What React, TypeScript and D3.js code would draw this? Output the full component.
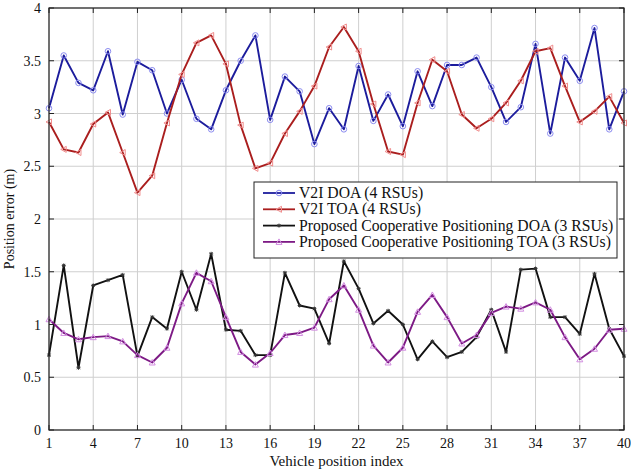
import React from "react";
import * as d3 from "d3";

const indices = d3.range(1, 41);
const xTicks = [1, 4, 7, 10, 13, 16, 19, 22, 25, 28, 31, 34, 37, 40];
const yTicks = [0, 0.5, 1, 1.5, 2, 2.5, 3, 3.5, 4];

const v2iDOA = [3.05, 3.55, 3.29, 3.22, 3.59, 2.99, 3.49, 3.41, 3.0, 3.32, 2.95, 2.85, 3.22, 3.5, 3.74, 2.94, 3.35, 3.21, 2.71, 3.05, 2.85, 3.45, 2.93, 3.18, 2.88, 3.4, 3.07, 3.46, 3.46, 3.53, 3.25, 2.92, 3.06, 3.66, 2.81, 3.53, 3.31, 3.81, 2.85, 3.21];
const v2iTOA = [2.92, 2.66, 2.63, 2.9, 3.01, 2.63, 2.25, 2.41, 2.91, 3.37, 3.67, 3.74, 3.47, 2.89, 2.48, 2.53, 2.81, 3.02, 3.26, 3.63, 3.82, 3.59, 3.09, 2.64, 2.61, 3.1, 3.51, 3.4, 2.99, 2.86, 2.95, 3.1, 3.31, 3.59, 3.62, 3.26, 2.92, 3.02, 3.16, 2.91];
const coopDOA = [0.71, 1.56, 0.59, 1.37, 1.42, 1.47, 0.7, 1.07, 0.96, 1.5, 1.14, 1.67, 0.95, 0.94, 0.71, 0.71, 1.49, 1.18, 1.15, 0.82, 1.6, 1.34, 1.01, 1.13, 1.0, 0.67, 0.84, 0.69, 0.74, 0.88, 1.14, 0.74, 1.52, 1.53, 1.07, 1.07, 0.91, 1.48, 0.96, 0.7];
const coopTOA = [1.05, 0.92, 0.86, 0.88, 0.89, 0.84, 0.71, 0.64, 0.78, 1.2, 1.49, 1.41, 1.07, 0.74, 0.62, 0.73, 0.9, 0.92, 0.97, 1.24, 1.37, 1.14, 0.8, 0.64, 0.78, 1.12, 1.28, 1.07, 0.82, 0.9, 1.11, 1.17, 1.15, 1.21, 1.14, 0.88, 0.67, 0.77, 0.95, 0.96];

const seriesNames = [
  "V2I DOA (4 RSUs)",
  "V2I TOA (4 RSUs)",
  "Proposed Cooperative Positioning DOA (3 RSUs)",
  "Proposed Cooperative Positioning TOA (3 RSUs)",
];

const series = [
  { name: seriesNames[0], values: v2iDOA, color: "#1c1c9c", mcolor: "#8c8cf0", marker: "circle" },
  { name: seriesNames[1], values: v2iTOA, color: "#aa1e1e", mcolor: "#f08c8c", marker: "triLeft" },
  { name: seriesNames[2], values: coopDOA, color: "#111111", mcolor: "#333333", marker: "star" },
  { name: seriesNames[3], values: coopTOA, color: "#7d1a85", mcolor: "#d28ce0", marker: "triUp" },
];

const W = 631, H = 475;
const M = { left: 49, right: 7, top: 8, bottom: 45 };
const FONT = "'Liberation Serif', 'DejaVu Serif', serif";

function Marker({ type, x, y, color }: { type: string; x: number; y: number; color: string }) {
  if (type === "circle") return <circle cx={x} cy={y} r={2.8} fill="none" stroke={color} strokeWidth={1} />;
  if (type === "triLeft") {
    const p = `${x - 3},${y} ${x + 2.5},${y - 3} ${x + 2.5},${y + 3}`;
    return <polygon points={p} fill="none" stroke={color} strokeWidth={1} />;
  }
  if (type === "triUp") {
    const p = `${x},${y - 3} ${x - 3},${y + 2.5} ${x + 3},${y + 2.5}`;
    return <polygon points={p} fill="none" stroke={color} strokeWidth={1} />;
  }
  return (
    <g stroke={color} strokeWidth={1}>
      <line x1={x - 2} x2={x + 2} y1={y} y2={y} />
      <line x1={x} x2={x} y1={y - 2} y2={y + 2} />
      <line x1={x - 1.5} x2={x + 1.5} y1={y - 1.5} y2={y + 1.5} />
      <line x1={x - 1.5} x2={x + 1.5} y1={y + 1.5} y2={y - 1.5} />
    </g>
  );
}

export default function App() {
  const x = d3.scaleLinear().domain([1, 40]).range([M.left, W - M.right]);
  const y = d3.scaleLinear().domain([0, 4]).range([H - M.bottom, M.top]);
  const line = d3.line<number>().x((_, i) => x(indices[i])).y((d) => y(d));
  const legX = 254, legY = 182, legW = 363, legH = 76;

  return (
    <svg width={W} height={H} style={{ position: "absolute", left: 0, top: 0, background: "#fff" }} fontFamily={FONT}>
      <rect x={0} y={0} width={W} height={H} fill="#fff" />
      {xTicks.map((t) => (
        <line key={"gx" + t} x1={x(t)} x2={x(t)} y1={y(0)} y2={y(4)} stroke="#cfcfcf" strokeWidth={1} />
      ))}
      {yTicks.map((t) => (
        <line key={"gy" + t} x1={x(1)} x2={x(40)} y1={y(t)} y2={y(t)} stroke="#cfcfcf" strokeWidth={1} />
      ))}
      {series.map((s) => (
        <g key={s.name}>
          <path d={line(s.values) || ""} fill="none" stroke={s.color} strokeWidth={1.9} strokeLinejoin="round" />
          {s.values.map((v, i) => (
            <Marker key={i} type={s.marker} x={x(indices[i])} y={y(v)} color={s.mcolor} />
          ))}
        </g>
      ))}
      <rect x={x(1)} y={y(4)} width={x(40) - x(1)} height={y(0) - y(4)} fill="none" stroke="#222" strokeWidth={1.2} />
      {xTicks.map((t) => (
        <g key={"tx" + t}>
          <line x1={x(t)} x2={x(t)} y1={y(0)} y2={y(0) - 5} stroke="#222" />
          <line x1={x(t)} x2={x(t)} y1={y(4)} y2={y(4) + 5} stroke="#222" />
          <text x={x(t)} y={y(0) + 18} textAnchor="middle" fontSize={14} fill="#111">{t}</text>
        </g>
      ))}
      {yTicks.map((t) => (
        <g key={"ty" + t}>
          <line x1={x(1)} x2={x(1) + 5} y1={y(t)} y2={y(t)} stroke="#222" />
          <line x1={x(40)} x2={x(40) - 5} y1={y(t)} y2={y(t)} stroke="#222" />
          <text x={x(1) - 8} y={y(t) + 5} textAnchor="end" fontSize={14} fill="#111">{String(t)}</text>
        </g>
      ))}
      <text x={(x(1) + x(40)) / 2} y={466} textAnchor="middle" fontSize={15} fill="#111">Vehicle position index</text>
      <text transform={`translate(14, ${(y(0) + y(4)) / 2}) rotate(-90)`} textAnchor="middle" fontSize={14} fill="#111">Position error (m)</text>
      <g>
        <rect x={legX} y={legY} width={legW} height={legH} fill="#fff" stroke="#222" strokeWidth={1} />
        {series.map((s, i) => {
          const ly = legY + 11 + i * 16.3;
          return (
            <g key={"leg" + i}>
              <line x1={legX + 9} x2={legX + 41} y1={ly} y2={ly} stroke={s.color} strokeWidth={1.8} />
              <Marker type={s.marker} x={legX + 25} y={ly} color={s.mcolor} />
              <text x={legX + 45} y={ly + 5} fontSize={15.7} fill="#111">{s.name}</text>
            </g>
          );
        })}
      </g>
    </svg>
  );
}
